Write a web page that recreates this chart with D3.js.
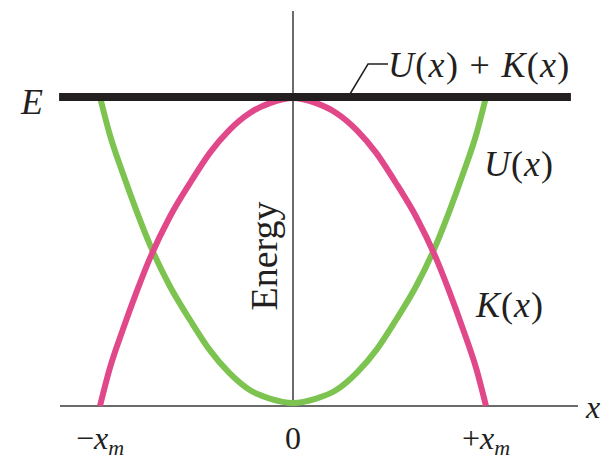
<!DOCTYPE html>
<html lang="en">
<head>
  <title>Energy of a simple harmonic oscillator</title>
  <meta charset="utf-8">
  <script src="https://d3js.org/d3.v7.min.js"></script>
  <style>
    body { margin: 0; background: #fff; }
    text { font-family: "Liberation Serif", "DejaVu Serif", serif; fill: #231f20; }
  </style>
</head>
<body>

<svg width="613" height="461"></svg>

<script>
  // positions in units of x_m, energies in units of E
  var xs         = [-1.0, -0.95, -0.88, -0.81, -0.74, -0.64, -0.53, -0.43, -0.33, -0.22, -0.12, 0.0,
                     0.12, 0.22, 0.33, 0.43, 0.53, 0.64, 0.74, 0.81, 0.88, 0.95, 1.0];
  var potential  = [1.0, 0.88, 0.75, 0.63, 0.52, 0.39, 0.275, 0.18, 0.107, 0.05, 0.024, 0.01,
                    0.024, 0.05, 0.107, 0.18, 0.275, 0.39, 0.52, 0.63, 0.75, 0.88, 1.0];
  var kinetic    = [0.0, 0.12, 0.25, 0.37, 0.48, 0.61, 0.725, 0.82, 0.893, 0.95, 0.98, 0.997,
                    0.98, 0.95, 0.893, 0.82, 0.725, 0.61, 0.48, 0.37, 0.25, 0.12, 0.0];
  var totalEnergy = 1.0;
  var tickValues = [-1, 0, 1];
  var tickLabels = [["\u2212", "x", "m"], ["0", "", ""], ["+", "x", "m"]];

  var svg = d3.select("svg");

  var xScale = d3.scaleLinear().domain([-1, 1]).range([100, 486]);
  var yScale = d3.scaleLinear().domain([0, 1]).range([406, 97]);

  // axes
  svg.append("line")
      .attr("x1", 60).attr("x2", 578)
      .attr("y1", yScale(0)).attr("y2", yScale(0))
      .attr("stroke", "#3a3a3a").attr("stroke-width", 1.5);

  svg.append("line")
      .attr("x1", xScale(0)).attr("x2", xScale(0))
      .attr("y1", 11).attr("y2", yScale(0))
      .attr("stroke", "#3a3a3a").attr("stroke-width", 1.5);

  var line = function(values) {
    return d3.line()
        .x(function(d, i) { return xScale(xs[i]); })
        .y(function(d) { return yScale(d); })
        .curve(d3.curveMonotoneX)(values);
  };

  svg.append("path")
      .attr("d", line(potential))
      .attr("fill", "none")
      .attr("stroke", "#7cc350")
      .attr("stroke-width", 6);

  svg.append("path")
      .attr("d", line(kinetic))
      .attr("fill", "none")
      .attr("stroke", "#e0488a")
      .attr("stroke-width", 6);

  // total energy line
  svg.append("line")
      .attr("x1", xScale(-1.212)).attr("x2", xScale(1.44))
      .attr("y1", yScale(totalEnergy)).attr("y2", yScale(totalEnergy))
      .attr("stroke", "#231f20").attr("stroke-width", 8);

  // leader to the U(x) + K(x) label
  svg.append("polyline")
      .attr("points", "350,94 368,64 388,64")
      .attr("fill", "none")
      .attr("stroke", "#231f20").attr("stroke-width", 1.5);

  var sum = svg.append("text")
      .attr("x", 388).attr("y", 77)
      .style("font-size", "36px")
      .style("letter-spacing", "1.3px");
  sum.append("tspan").style("font-style", "italic").text("U");
  sum.append("tspan").text("(");
  sum.append("tspan").style("font-style", "italic").text("x");
  sum.append("tspan").text(") + ");
  sum.append("tspan").style("font-style", "italic").text("K");
  sum.append("tspan").text("(");
  sum.append("tspan").style("font-style", "italic").text("x");
  sum.append("tspan").text(")");

  svg.append("text")
      .attr("x", 21).attr("y", 114)
      .style("font-size", "36px")
      .style("font-style", "italic")
      .text("E");

  var uLabel = svg.append("text")
      .attr("x", 484).attr("y", 176)
      .style("font-size", "36px")
      .style("letter-spacing", "1px");
  uLabel.append("tspan").style("font-style", "italic").text("U");
  uLabel.append("tspan").text("(");
  uLabel.append("tspan").style("font-style", "italic").text("x");
  uLabel.append("tspan").text(")");

  var kLabel = svg.append("text")
      .attr("x", 476).attr("y", 317)
      .style("font-size", "36px")
      .style("letter-spacing", "1px");
  kLabel.append("tspan").style("font-style", "italic").text("K");
  kLabel.append("tspan").text("(");
  kLabel.append("tspan").style("font-style", "italic").text("x");
  kLabel.append("tspan").text(")");

  svg.append("text")
      .attr("transform", "translate(277,256) rotate(-90)")
      .style("font-size", "38px")
      .style("text-anchor", "middle")
      .text("Energy");

  svg.append("text")
      .attr("x", 586).attr("y", 418)
      .style("font-size", "32px")
      .style("font-style", "italic")
      .text("x");

  // tick labels
  var ticks = svg.selectAll(".tick")
      .data(tickValues)
      .enter().append("text")
      .attr("class", "tick")
      .attr("x", function(d) { return xScale(d); })
      .attr("y", 449)
      .style("font-size", "32px")
      .style("text-anchor", "middle");

  ticks.each(function(d, i) {
    var t = d3.select(this), parts = tickLabels[i];
    t.append("tspan").text(parts[0]);
    if (parts[1]) {
      t.append("tspan").style("font-style", "italic").text(parts[1]);
      t.append("tspan").style("font-style", "italic").style("font-size", "22px")
          .attr("dy", 6).text(parts[2]);
    }
  });
</script>

</body>
</html>
